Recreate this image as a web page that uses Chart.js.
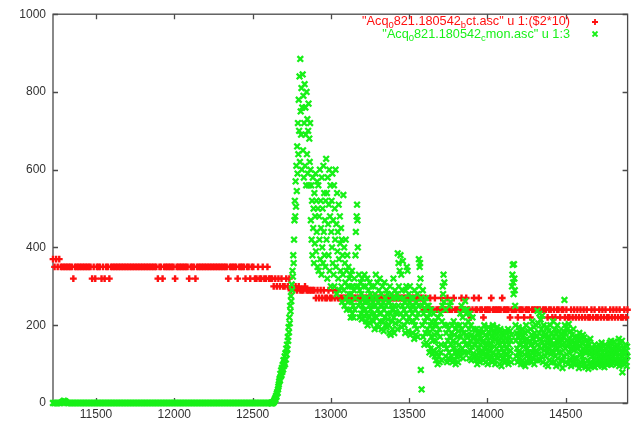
<!DOCTYPE html>
<html>
<head>
<meta charset="utf-8">
<title>Acq 821.180542</title>
<script src="https://cdn.jsdelivr.net/npm/chart.js@4.4.1/dist/chart.umd.min.js"></script>
<style>
  html, body { margin: 0; padding: 0; background: #fff; }
  canvas { display: block; }
</style>
</head>
<body>
<canvas id="acqChart" width="634" height="423"></canvas>
<script>
// axis ranges and tick labels
const xMin = 11225;
const xMax = 14896;
const xTickValues = [11500, 12000, 12500, 13000, 13500, 14000, 14500];
const yMin = 0;
const yMax = 1000;
const yStep = 200;

// legend entries (gnuplot enhanced text: [text, isSubscript])
const ctLabel = [['"Acq', false], ['0', true], ['821.180542', false], ['b', true], ['ct.asc" u 1:($2*10)', false]];
const monLabel = [['"Acq', false], ['0', true], ['821.180542', false], ['c', true], ['mon.asc" u 1:3', false]];

// ct counts (column 2 * 10), one sample every 10 channels from 11225
const ctStart = 11225;
const ctStep = 10;
const ctValues = [
  370,350,370,350,370,350,350,350,350,350,
  350,350,350,320,350,350,350,350,350,350,
  350,350,350,350,350,320,350,320,350,350,
  350,320,350,320,350,350,320,350,350,350,
  350,350,350,350,350,350,350,350,350,350,
  350,350,350,350,350,350,350,350,350,350,
  350,350,350,350,350,350,350,320,350,350,
  320,350,350,350,350,350,350,350,320,350,
  350,350,350,350,350,350,350,320,350,350,
  350,320,350,350,350,350,350,350,350,350,
  350,350,350,350,350,350,350,350,350,350,
  350,350,320,350,350,350,350,350,320,350,
  350,350,350,320,350,350,320,350,350,320,
  320,350,320,320,350,320,320,350,320,320,
  320,300,320,300,320,300,320,300,300,320,
  300,320,290,300,290,300,290,300,290,290,
  290,300,290,290,290,290,290,290,270,290,
  270,290,270,290,270,270,290,270,270,290,
  270,290,270,270,270,270,270,270,270,270,
  270,270,270,270,270,270,270,270,270,270,
  270,270,270,270,270,270,270,270,270,270,
  270,270,270,270,270,270,270,270,270,270,
  270,270,270,270,270,270,270,270,270,270,
  270,270,270,270,270,270,270,240,270,240,
  240,270,240,240,270,240,240,240,270,240,
  240,240,270,240,240,240,270,240,240,240,
  240,270,240,240,270,240,240,220,240,270,
  240,240,270,240,240,220,240,240,240,240,
  270,240,240,240,240,240,240,270,240,240,
  240,240,220,240,240,240,240,220,240,240,
  240,220,240,240,240,220,240,240,240,240,
  240,240,220,240,240,240,220,240,240,220,
  240,220,240,240,220,240,240,220,240,220,
  220,240,220,240,220,240,220,240,220,240,
  220,240,220,220,240,220,240,220,220,240,
  220,240,220,240,220,220,240,220,240,220,
  240,220,240,220,220,240,220,240
];

// monitor counts (column 3): quiet baseline, one sample every 10 channels
const monBaseStart = 11225;
const monBaseStep = 10;
const monBaseValues = [
  0,0,0,0,0,0,3,6,4,0,
  0,0,0,0,0,0,0,0,0,0,
  0,0,0,0,0,0,0,0,0,0,
  0,0,0,0,0,0,0,0,0,0,
  0,0,0,0,0,0,0,0,0,0,
  0,0,0,0,0,0,0,0,0,0,
  0,0,0,0,0,0,0,0,0,0,
  0,0,0,0,0,0,0,0,0,0,
  0,0,0,0,0,0,0,0,0,0,
  0,0,0,0,0,0,0,0,0,0,
  0,0,0,0,0,0,0,0,0,0,
  0,0,0,0,0,0,0,0,0,0,
  0,0,0,0,0,0,0,0,0,0,
  0,0,0,0,0,0,0,0,0,0
];

// monitor counts (column 3) after the beam comes on, one sample every 2.5 channels
const monStart = 12620;
const monStep = 2.5;
const monValues = [
  0,0,0,1,0,2,4,3,7,10,9,14,18,16,24,28,26,35,42,48,
  55,62,58,75,68,84,72,90,80,98,86,110,95,104,120,100,128,112,140,125,
  150,138,170,160,195,182,220,205,250,236,275,262,305,290,340,325,380,360,420,470,
  520,480,570,505,610,545,660,590,720,640,780,700,840,620,885,750,690,810,600,760,
  845,650,790,580,720,820,610,760,690,560,800,640,730,590,700,770,560,680,620,720,
  600,470,560,420,520,380,580,450,500,360,540,410,480,590,390,520,440,570,350,500,
  560,340,480,420,600,370,520,450,330,580,400,500,360,610,440,540,380,470,350,520,
  628,420,540,320,580,460,380,510,600,340,480,560,300,440,520,400,590,360,470,330,
  560,300,500,420,600,350,460,280,540,390,440,320,510,370,290,480,410,340,450,300,
  420,260,380,330,535,290,400,250,360,310,420,270,340,240,380,300,260,350,280,320,
  300,240,330,220,280,260,340,230,300,250,220,290,320,240,270,380,440,300,480,510,
  470,400,300,250,330,220,290,260,310,230,280,215,320,250,240,300,270,225,330,260,
  240,300,210,270,230,320,200,260,290,220,250,310,205,280,240,230,300,215,270,250,
  260,210,300,230,190,280,250,330,220,270,200,310,240,260,195,290,230,320,210,250,
  230,280,190,250,300,210,260,185,240,310,220,270,200,250,290,195,230,280,215,260,
  200,260,180,300,230,175,250,280,210,240,190,270,320,220,180,250,290,205,235,270,
  230,280,190,385,250,360,300,210,340,270,380,230,330,195,290,250,365,220,270,240,
  200,260,180,290,230,300,350,210,340,250,185,280,220,260,300,175,240,270,210,250,
  230,180,270,210,250,165,290,200,240,175,260,220,190,280,170,230,250,370,300,350,
  360,320,85,270,35,250,200,290,170,230,260,150,210,240,180,270,155,220,250,190,
  220,150,250,180,130,230,200,140,240,170,210,125,190,160,230,135,200,175,120,210,
  160,110,200,130,180,100,220,145,120,190,105,170,230,130,150,110,210,250,300,280,
  330,260,310,200,150,240,120,180,140,105,200,160,115,190,130,250,170,110,260,150,
  180,120,200,105,160,140,210,110,175,130,190,100,155,120,200,135,170,105,185,125,
  150,200,120,230,170,130,250,190,140,220,115,180,240,160,130,262,200,150,230,175,
  240,170,130,210,150,190,115,230,160,135,200,110,175,145,220,125,165,190,120,150,
  170,110,150,190,125,160,100,180,140,115,175,130,185,105,150,165,120,190,135,155,
  130,180,110,160,200,140,120,175,105,190,150,125,170,100,160,195,135,115,180,145,
  150,190,120,170,105,160,200,130,180,110,145,185,100,165,125,175,140,195,115,155,
  185,130,160,100,150,190,120,170,95,140,180,115,160,130,175,105,150,185,125,165,
  140,180,110,160,125,190,100,150,170,120,185,135,160,105,175,300,330,355,310,280,
  357,320,290,250,200,160,120,180,140,105,170,130,195,115,150,185,125,160,100,175,
  130,170,110,190,145,100,160,125,180,95,150,200,120,165,140,105,185,130,155,115,
  160,120,190,105,150,175,130,210,115,165,140,195,100,180,125,155,200,135,170,110,
  237,150,205,125,180,230,110,165,215,140,190,120,225,155,105,180,200,135,170,145,
  120,175,100,155,195,130,165,95,185,140,110,170,150,200,125,160,105,180,135,150,
  210,130,170,105,190,150,120,180,95,160,140,200,115,170,130,155,185,100,145,165,
  130,175,110,160,90,150,185,120,170,265,200,140,180,105,160,125,190,145,100,155,
  203,130,165,110,150,185,95,140,175,120,160,105,190,135,150,115,170,100,145,160,
  150,115,170,100,140,160,90,180,125,145,105,165,130,95,155,120,175,110,140,130,
  169,100,145,92,130,160,95,140,110,155,88,135,150,100,125,165,105,140,95,130,
  120,100,140,95,130,110,150,92,135,115,145,100,125,140,98,130,110,150,105,120,
  140,100,125,110,155,95,130,115,145,105,135,92,120,150,108,140,100,130,118,145,
  120,145,100,130,110,155,105,125,160,98,140,115,150,102,135,120,158,110,130,145,
  135,110,150,100,130,120,145,105,165,95,140,115,155,100,130,120,160,79,110,140,
  130,100,140,115,125,150,105,135,95,145,120
];

const RED = '#ff1010';
const GREEN = '#18f018';
const TICK_FONT = { family: 'Liberation Sans, Arial, sans-serif', size: 12 };

function toPoints(start, step, values) {
    return values.map((v, i) => ({ x: start + i * step, y: v }));
}

// gnuplot-style frame with inward ticks on all four sides
const framePlugin = {
    id: 'gnuFrame',
    beforeDatasetsDraw(chart) {
        const { ctx, chartArea: a, scales } = chart;
        ctx.save();
        ctx.strokeStyle = '#4a4a4a';
        ctx.lineWidth = 1.3;
        ctx.strokeRect(a.left, a.top, a.right - a.left, a.bottom - a.top);
        ctx.beginPath();
        xTickValues.forEach(v => {
            const px = Math.round(scales.x.getPixelForValue(v)) + 0.5;
            ctx.moveTo(px, a.bottom); ctx.lineTo(px, a.bottom - 5);
            ctx.moveTo(px, a.top); ctx.lineTo(px, a.top + 5);
        });
        for (let v = yMin; v <= yMax; v += yStep) {
            const py = Math.round(scales.y.getPixelForValue(v)) + 0.5;
            ctx.moveTo(a.left, py); ctx.lineTo(a.left + 5, py);
            ctx.moveTo(a.right, py); ctx.lineTo(a.right - 5, py);
        }
        ctx.stroke();
        ctx.restore();
    }
};

function drawRich(ctx, parts, rightX, y, color) {
    const big = '12.7px Liberation Sans, Arial, sans-serif';
    const small = '9.5px Liberation Sans, Arial, sans-serif';
    let total = 0;
    parts.forEach(([t, sub]) => {
        ctx.font = sub ? small : big;
        total += ctx.measureText(t).width;
    });
    let x = rightX - total;
    ctx.fillStyle = color;
    ctx.textBaseline = 'middle';
    ctx.textAlign = 'left';
    parts.forEach(([t, sub]) => {
        ctx.font = sub ? small : big;
        ctx.fillText(t, x, sub ? y + 4 : y);
        x += ctx.measureText(t).width;
    });
}

// key in the top right corner
const keyPlugin = {
    id: 'gnuKey',
    afterDraw(chart) {
        const ctx = chart.ctx;
        ctx.save();
        drawRich(ctx, ctLabel, 570, 21.5, RED);
        drawRich(ctx, monLabel, 570, 34, GREEN);
        ctx.lineWidth = 1.8;
        ctx.strokeStyle = RED;
        ctx.beginPath();
        ctx.moveTo(592, 22); ctx.lineTo(598, 22);
        ctx.moveTo(595, 19); ctx.lineTo(595, 25);
        ctx.stroke();
        ctx.strokeStyle = GREEN;
        ctx.beginPath();
        ctx.moveTo(592.5, 31.5); ctx.lineTo(597.5, 36.5);
        ctx.moveTo(597.5, 31.5); ctx.lineTo(592.5, 36.5);
        ctx.stroke();
        ctx.restore();
    }
};

const monPoints = toPoints(monBaseStart, monBaseStep, monBaseValues)
    .concat(toPoints(monStart, monStep, monValues));

new Chart(document.getElementById('acqChart'), {
    type: 'scatter',
    data: {
        datasets: [{
            label: 'ct',
            data: toPoints(ctStart, ctStep, ctValues),
            pointStyle: 'cross',
            radius: 3.4,
            borderWidth: 2.4,
            borderColor: RED,
            backgroundColor: RED,
            order: 1,
            clip: false
        }, {
            label: 'mon',
            data: monPoints,
            pointStyle: 'crossRot',
            radius: 4,
            borderWidth: 2.3,
            borderColor: GREEN,
            backgroundColor: GREEN,
            order: 0,
            clip: false
        }]
    },
    options: {
        responsive: false,
        animation: false,
        layout: { padding: { top: 12, right: 6, left: 0, bottom: 0 } },
        plugins: {
            legend: { display: false },
            tooltip: { enabled: false }
        },
        scales: {
            x: {
                type: 'linear',
                min: xMin,
                max: xMax,
                grid: { display: false, drawTicks: false },
                border: { display: false },
                afterBuildTicks: s => { s.ticks = xTickValues.map(v => ({ value: v })); },
                afterFit: s => { s.height = 20; },
                ticks: {
                    font: TICK_FONT,
                    color: '#333',
                    padding: 4,
                    maxRotation: 0,
                    autoSkip: false,
                    callback: v => String(v)
                }
            },
            y: {
                min: yMin,
                max: yMax,
                grid: { display: false, drawTicks: false },
                border: { display: false },
                afterFit: s => { s.width = 53; },
                ticks: {
                    stepSize: yStep,
                    font: TICK_FONT,
                    color: '#333',
                    padding: 7,
                    callback: v => String(v)
                }
            }
        }
    },
    plugins: [framePlugin, keyPlugin]
});
</script>
</body>
</html>
